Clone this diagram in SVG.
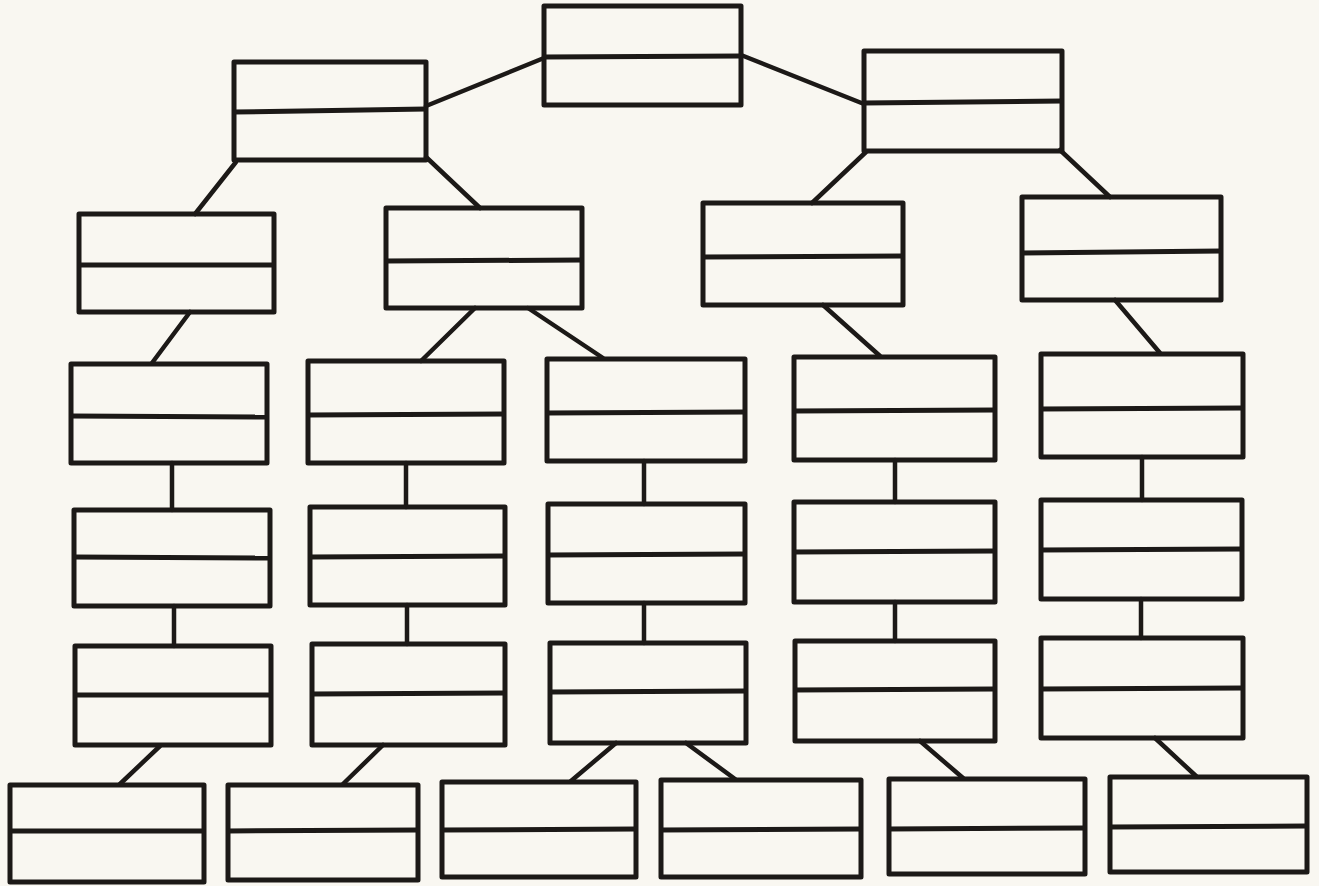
<svg xmlns="http://www.w3.org/2000/svg" width="1319" height="886" viewBox="0 0 1319 886">
<style>
.b{fill:none;stroke:#1c1917;stroke-width:5;stroke-linejoin:round}
.d{stroke:#1c1917;stroke-width:5}
.c line{stroke:#1c1917;stroke-width:4.5;stroke-linecap:round}
</style>
<rect width="1319" height="886" fill="#f9f7f1"/>
<g id="connectors" class="c">
<line x1="544" y1="58" x2="426" y2="106"/>
<line x1="741" y1="55" x2="864" y2="104"/>
<line x1="236" y1="162" x2="195" y2="214"/>
<line x1="426" y1="157" x2="480" y2="208"/>
<line x1="866" y1="152" x2="812" y2="203"/>
<line x1="1060" y1="150" x2="1110" y2="197"/>
<line x1="190" y1="312" x2="152" y2="363"/>
<line x1="475" y1="308" x2="421" y2="361"/>
<line x1="528" y1="308" x2="603" y2="358"/>
<line x1="823" y1="305" x2="880" y2="356"/>
<line x1="1115" y1="300" x2="1160" y2="353"/>
<line x1="172" y1="463" x2="172" y2="510"/>
<line x1="406" y1="463" x2="406" y2="507"/>
<line x1="644" y1="461" x2="644" y2="504"/>
<line x1="895" y1="460" x2="895" y2="502"/>
<line x1="1142" y1="457" x2="1142" y2="500"/>
<line x1="174" y1="606" x2="174" y2="646"/>
<line x1="407" y1="605" x2="407" y2="644"/>
<line x1="644" y1="603" x2="644" y2="643"/>
<line x1="895" y1="602" x2="895" y2="641"/>
<line x1="1141" y1="599" x2="1141" y2="638"/>
<line x1="160" y1="746" x2="120" y2="784"/>
<line x1="383" y1="745" x2="343" y2="784"/>
<line x1="616" y1="743" x2="571" y2="781"/>
<line x1="686" y1="743" x2="735" y2="779"/>
<line x1="920" y1="741" x2="963" y2="778"/>
<line x1="1155" y1="738" x2="1196" y2="776"/>
</g>
<g id="n0"><rect class="b" x="544" y="6" width="197" height="99"/><line class="d" x1="544" y1="57" x2="741" y2="56"/></g>
<g id="n1"><rect class="b" x="234" y="62" width="192" height="98"/><line class="d" x1="234" y1="112" x2="426" y2="109"/></g>
<g id="n2"><rect class="b" x="864" y="51" width="198" height="100"/><line class="d" x1="864" y1="103" x2="1062" y2="101"/></g>
<g id="n3"><rect class="b" x="79" y="214" width="195" height="98"/><line class="d" x1="79" y1="265" x2="274" y2="265"/></g>
<g id="n4"><rect class="b" x="386" y="208" width="196" height="100"/><line class="d" x1="386" y1="261" x2="582" y2="260"/></g>
<g id="n5"><rect class="b" x="703" y="203" width="200" height="102"/><line class="d" x1="703" y1="257" x2="903" y2="256"/></g>
<g id="n6"><rect class="b" x="1022" y="197" width="199" height="103"/><line class="d" x1="1022" y1="253" x2="1221" y2="251"/></g>
<g id="n7"><rect class="b" x="71" y="364" width="196" height="99"/><line class="d" x1="71" y1="416" x2="267" y2="417"/></g>
<g id="n8"><rect class="b" x="308" y="361" width="196" height="102"/><line class="d" x1="308" y1="415" x2="504" y2="414"/></g>
<g id="n9"><rect class="b" x="547" y="359" width="198" height="102"/><line class="d" x1="547" y1="413" x2="745" y2="412"/></g>
<g id="n10"><rect class="b" x="794" y="357" width="201" height="103"/><line class="d" x1="794" y1="411" x2="995" y2="410"/></g>
<g id="n11"><rect class="b" x="1041" y="354" width="202" height="103"/><line class="d" x1="1041" y1="409" x2="1243" y2="408"/></g>
<g id="n12"><rect class="b" x="74" y="510" width="196" height="96"/><line class="d" x1="74" y1="557" x2="270" y2="558"/></g>
<g id="n13"><rect class="b" x="310" y="507" width="195" height="98"/><line class="d" x1="310" y1="557" x2="505" y2="556"/></g>
<g id="n14"><rect class="b" x="548" y="504" width="197" height="99"/><line class="d" x1="548" y1="555" x2="745" y2="554"/></g>
<g id="n15"><rect class="b" x="794" y="502" width="201" height="100"/><line class="d" x1="794" y1="552" x2="995" y2="551"/></g>
<g id="n16"><rect class="b" x="1041" y="500" width="201" height="99"/><line class="d" x1="1041" y1="550" x2="1242" y2="549"/></g>
<g id="n17"><rect class="b" x="75" y="646" width="196" height="99"/><line class="d" x1="75" y1="695" x2="271" y2="695"/></g>
<g id="n18"><rect class="b" x="312" y="644" width="193" height="101"/><line class="d" x1="312" y1="694" x2="505" y2="693"/></g>
<g id="n19"><rect class="b" x="550" y="643" width="196" height="100"/><line class="d" x1="550" y1="692" x2="746" y2="691"/></g>
<g id="n20"><rect class="b" x="795" y="641" width="200" height="100"/><line class="d" x1="795" y1="690" x2="995" y2="689"/></g>
<g id="n21"><rect class="b" x="1041" y="638" width="202" height="100"/><line class="d" x1="1041" y1="689" x2="1243" y2="688"/></g>
<g id="n22"><rect class="b" x="10" y="785" width="194" height="97"/><line class="d" x1="10" y1="831" x2="204" y2="831"/></g>
<g id="n23"><rect class="b" x="228" y="785" width="190" height="95"/><line class="d" x1="228" y1="831" x2="418" y2="830"/></g>
<g id="n24"><rect class="b" x="442" y="782" width="194" height="95"/><line class="d" x1="442" y1="830" x2="636" y2="829"/></g>
<g id="n25"><rect class="b" x="661" y="780" width="200" height="97"/><line class="d" x1="661" y1="830" x2="861" y2="829"/></g>
<g id="n26"><rect class="b" x="889" y="779" width="196" height="95"/><line class="d" x1="889" y1="829" x2="1085" y2="828"/></g>
<g id="n27"><rect class="b" x="1110" y="777" width="197" height="95"/><line class="d" x1="1110" y1="827" x2="1307" y2="826"/></g>
</svg>
